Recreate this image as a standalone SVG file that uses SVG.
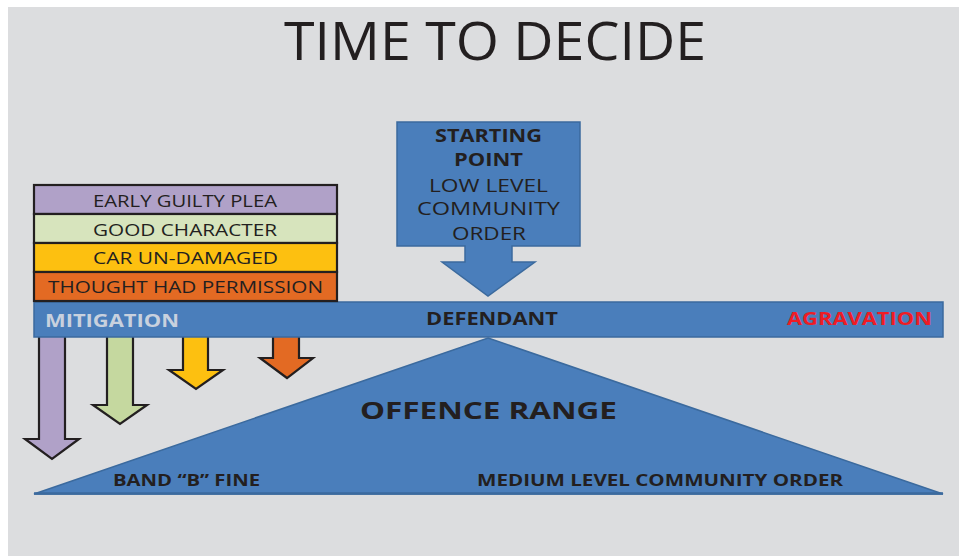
<svg xmlns="http://www.w3.org/2000/svg" width="959" height="556" viewBox="0 0 959 556">
<style>
.t{font-family:"Open Sans","Liberation Sans",sans-serif;fill:#231f20;text-anchor:middle}
.b{font-weight:bold}
.blue{fill:#4a7ebb;stroke:#3b6a9e;stroke-width:1.5}
.arr{stroke:#231f20;stroke-width:2.2;stroke-linejoin:miter}
.row{stroke:#231f20;stroke-width:2.2}
</style>
<rect x="0" y="0" width="959" height="556" fill="#ffffff"/>
<rect x="8" y="7" width="951" height="549" fill="#dcdddf"/>
<text class="t" x="495" y="60" font-size="53" textLength="422" lengthAdjust="spacingAndGlyphs">TIME TO DECIDE</text>

<g id="connectors">
<polygon id="arrow-plea" class="arr" fill="#b0a1c8" points="39,330 65,330 65,439 79,439 52,459 25,439 39,439"/>
<polygon id="arrow-character" class="arr" fill="#c5d89f" points="107,330 133,330 133,405 147,405 120,424 93,405 107,405"/>
<polygon id="arrow-car" class="arr" fill="#fdc010" points="183,330 208,330 208,370 223,370 196,389 169,370 183,370"/>
<polygon id="arrow-permission" class="arr" fill="#e36a23" points="273,330 299,330 299,358 313,358 287,378 260,358 273,358"/>
</g>

<g id="offence-range">
<polygon class="blue" points="488,338 943,494 34,494"/>
<line x1="34" y1="493.5" x2="943" y2="493.5" stroke="#3b6a9e" stroke-width="2.5"/>
<text class="t b" x="488.5" y="419" font-size="24" textLength="257" lengthAdjust="spacingAndGlyphs">OFFENCE RANGE</text>
<text class="t b" x="186.5" y="486" font-size="16.5" textLength="147" lengthAdjust="spacingAndGlyphs">BAND “B” FINE</text>
<text class="t b" x="660" y="486" font-size="16.5" textLength="366" lengthAdjust="spacingAndGlyphs">MEDIUM LEVEL COMMUNITY ORDER</text>
</g>

<g id="defendant-bar">
<rect class="blue" x="34" y="302" width="909" height="35"/>
<text class="t b" x="45" y="327" font-size="18" textLength="134" lengthAdjust="spacingAndGlyphs" style="text-anchor:start;fill:#c8d1de">MITIGATION</text>
<text class="t b" x="492" y="325" font-size="18" textLength="132" lengthAdjust="spacingAndGlyphs">DEFENDANT</text>
<text class="t b" x="787" y="325" font-size="18" textLength="145" lengthAdjust="spacingAndGlyphs" style="text-anchor:start;fill:#ee1c25">AGRAVATION</text>
</g>

<g id="mitigation-factors">
<rect class="row" x="34" y="185" width="303" height="29" fill="#b0a1c8"/>
<rect class="row" x="34" y="214" width="303" height="29" fill="#d7e4bd"/>
<rect class="row" x="34" y="243" width="303" height="29" fill="#fdc010"/>
<rect class="row" x="34" y="272" width="303" height="29" fill="#e36a23"/>
<text class="t" x="185" y="207" font-size="16.5" textLength="184" lengthAdjust="spacingAndGlyphs">EARLY GUILTY PLEA</text>
<text class="t" x="185" y="236" font-size="16.5" textLength="184" lengthAdjust="spacingAndGlyphs">GOOD CHARACTER</text>
<text class="t" x="185.5" y="264" font-size="16.5" textLength="185" lengthAdjust="spacingAndGlyphs">CAR UN-DAMAGED</text>
<text class="t" x="185.5" y="293" font-size="16.5" textLength="275" lengthAdjust="spacingAndGlyphs">THOUGHT HAD PERMISSION</text>
</g>

<g id="starting-point">
<polygon class="blue" points="397,122 580,122 580,246 512,246 512,262 535,262 488,296 442,262 465,262 465,246 397,246"/>
<text class="t b" x="488.5" y="142" font-size="18.5" textLength="107" lengthAdjust="spacingAndGlyphs">STARTING</text>
<text class="t b" x="488.5" y="166" font-size="18.5" textLength="69" lengthAdjust="spacingAndGlyphs">POINT</text>
<text class="t" x="488.5" y="192" font-size="18.5" textLength="119" lengthAdjust="spacingAndGlyphs">LOW LEVEL</text>
<text class="t" x="488.5" y="215" font-size="18.5" textLength="143" lengthAdjust="spacingAndGlyphs">COMMUNITY</text>
<text class="t" x="489" y="240" font-size="18.5" textLength="74" lengthAdjust="spacingAndGlyphs">ORDER</text>
</g>
</svg>
